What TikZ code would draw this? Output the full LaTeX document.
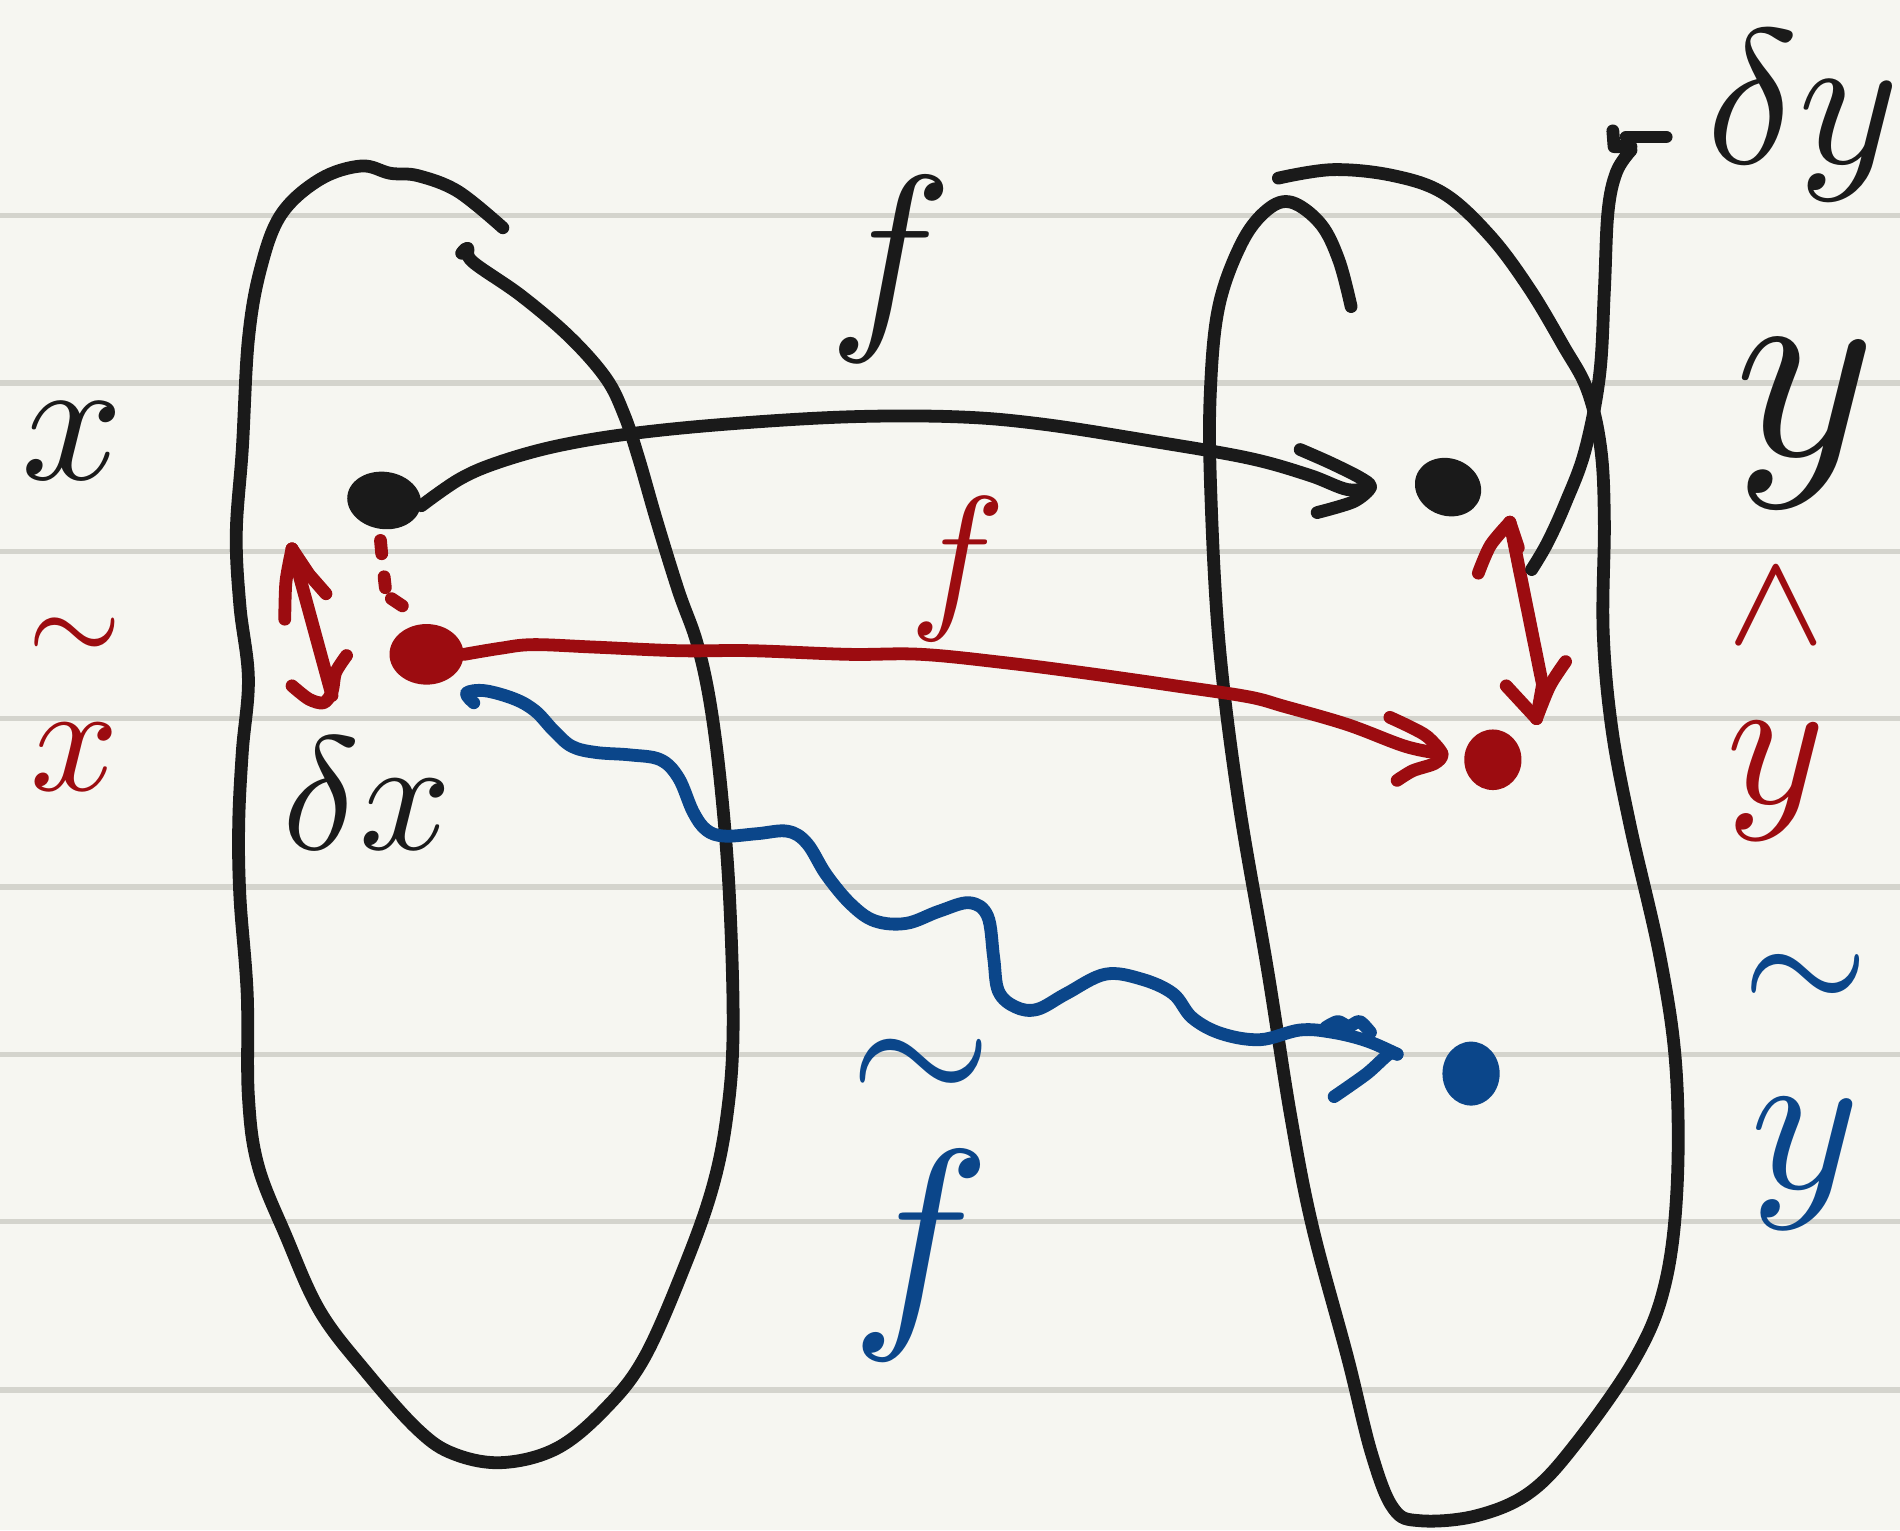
\documentclass[tikz,border=0pt]{standalone}
\usetikzlibrary{shapes.geometric}
\definecolor{bgC}{HTML}{F6F6F1}
\definecolor{ruleC}{HTML}{D4D4CD}
\definecolor{inkK}{HTML}{1A1A1A}
\definecolor{inkR}{HTML}{9C0C10}
\definecolor{inkB}{HTML}{0B468A}
\begin{document}
\begin{tikzpicture}[x=0.36pt,y=-0.36pt,
  pen/.style={line width=3.8pt,line cap=round,line join=round},
  kpen/.style={pen,draw=inkK}, rpen/.style={pen,draw=inkR}, bpen/.style={pen,draw=inkB},
  rulestyle/.style={draw=ruleC,line width=1.6pt},
  dotstyle/.style={ellipse,inner sep=0pt,draw=none},
  lbl/.style={inner sep=0pt,align=center}]
\fill[bgC] (0,0) rectangle (1568,1263);
\useasboundingbox (0,0) rectangle (1568,1263);
\foreach \yy in {178,316,455,593,732,870,1008,1147} \draw[rulestyle] (0,\yy) -- (1568,\yy);

% left set
\draw[kpen] plot[smooth,tension=0.6] coordinates {(381,209) (386,205) (390,216) (430,244) (470,278) (500,312) (515,342) (527,378) (542,430) (560,488) (575,530) (586,580) (595,650) (602,740) (605,850) (600,920) (588,980) (565,1045) (532,1120) (500,1162) (460,1195) (415,1207) (375,1200) (345,1180) (302,1132) (264,1082) (236,1020) (213,962) (205,905) (204,820) (198,740) (197,680) (200,620) (205,560) (198,500) (195,440) (200,370) (205,280) (215,222) (232,177) (264,148) (298,137) (322,143) (345,145) (378,158) (415,188)};
% right set
\draw[kpen] plot[smooth,tension=0.6] coordinates {(1055,147) (1100,140) (1150,145) (1192,160) (1230,195) (1262,238) (1290,285) (1310,322) (1321,370) (1324,430) (1323,520) (1330,600) (1345,680) (1370,790) (1383,880) (1384,980) (1374,1060) (1350,1120) (1300,1192) (1262,1232) (1218,1251) (1172,1255) (1150,1245) (1132,1200) (1112,1120) (1083,1012) (1065,920) (1046,800) (1022,660) (1006,530) (999,400) (999,320) (1006,252) (1025,200) (1046,173) (1066,167) (1090,185) (1105,215) (1115,253)};

% points
\node[dotstyle,fill=inkK,minimum width=22pt,minimum height=17pt,rotate=-8] (px) at (317,413) {};
\node[dotstyle,fill=inkR,minimum width=22pt,minimum height=18pt] (pxt) at (352,540) {};
\node[dotstyle,fill=inkK,minimum width=20pt,minimum height=17pt,rotate=-20] (py) at (1195,402) {};
\node[dotstyle,fill=inkR,minimum width=17pt,minimum height=18pt] (pyr) at (1232,627) {};
\node[dotstyle,fill=inkB,minimum width=17pt,minimum height=19pt] (pyb) at (1214,886) {};

% tips
\coordinate (tipK) at (1131,402);
\coordinate (tipR) at (1190,622);
\coordinate (tipB) at (1153,870);

% black arrow x -> y
\draw[kpen] plot[smooth,tension=0.6] coordinates {(px.east) (380,395) (413,381) (460,368) (520,358) (600,350) (700,344) (790,344) (860,350) (950,364) (1030,378) (1080,392) (1112,404) (tipK)};
\draw[kpen] plot[smooth,tension=0.5] coordinates {(1073,371) (1098,382) (1122,394) (tipK) (1117,414) (1087,423)};

% red arrow
\draw[rpen] plot[smooth,tension=0.6] coordinates {(pxt.east) (413,535) (440,532) (490,534) (560,537) (620,537) (700,540) (760,540) (830,547) (900,556) (970,566) (1030,575) (1060,583) (1112,598) (1160,616) (tipR)};
\draw[rpen] plot[smooth,tension=0.5] coordinates {(1147,592) (1164,600) (1178,608) (tipR) (1184,630) (1166,636) (1153,644)};

% blue wavy arrow
\draw[bpen] plot[smooth,tension=0.6] coordinates {(391,580) (385,572) (400,570) (425,577) (442,587) (457,603) (472,616) (492,621) (520,623) (545,627) (560,642) (572,670) (583,685) (598,690) (625,688) (650,686) (666,696) (682,722) (702,746) (722,760) (748,762) (775,752) (800,745) (815,756) (820,790) (824,818) (838,831) (856,833) (880,820) (912,804) (942,808) (968,820) (984,840) (1008,853) (1040,858) (1073,850) (1100,852) (1128,859) (tipB)};
\draw[bpen] plot[smooth,tension=0.5] coordinates {(1094,848) (1104,843) (1113,847) (1122,843) (1131,852)};
\draw[bpen] plot[smooth,tension=0.5] coordinates {(tipB) (1146,870) (1128,886) (1101,905)};

% red dotted link between x and x tilde
\draw[rpen] (314,446) -- (315,457);
\draw[rpen] (317,476) -- (318,485);
\draw[rpen] (323,494) -- (332,500);

% left delta x double arrow
\coordinate (dxa) at (241,453);
\coordinate (dxb) at (274,574);
\draw[rpen] (dxa) -- (dxb);
\draw[rpen] plot[smooth,tension=0.5] coordinates {(235,511) (236,480) (dxa)};
\draw[rpen] (dxa) -- (255,474) -- (269,490);
\draw[rpen] plot[smooth,tension=0.5] coordinates {(241,566) (255,577) (267,580) (274,571) (277,555) (286,541)};

% right delta y double arrow
\coordinate (dya) at (1246,431);
\coordinate (dyb) at (1268,593);
\draw[rpen] (dya) -- (1273,565) -- (dyb);
\draw[rpen] plot[smooth,tension=0.5] coordinates {(1220,473) (1230,450) (dya)};
\draw[rpen] (dya) -- (1253,452);
\draw[rpen] (1243,566) -- (dyb);
\draw[rpen] plot[smooth,tension=0.5] coordinates {(1292,546) (1279,566) (dyb)};

% pointer from delta y
\draw[kpen] (1375,113) -- (1342,113);
\draw[kpen] (1331,108) -- (1332,121) -- (1346,121);
\draw[kpen] plot[smooth,tension=0.6] coordinates {(1346,124) (1334,142) (1327,175) (1324,240) (1320,310) (1308,372) (1292,415) (1277,448) (1264,470)};

% labels
\node[lbl,text=inkK,scale=5.3] (lx) at (60,364) {$x$};
\node[lbl,text=inkR,scale=4.6] (lxt) at (62,581) {$\scriptstyle\sim$\\[-3.5pt]$x$};
\node[lbl,text=inkK,scale=4.8] (ldx) at (303,655) {$\delta x$};
\node[lbl,text=inkK,scale=6.2] (lf) at (735,222) {$f$};
\node[lbl,text=inkR,scale=4.8] (lfr) at (790,470) {$f$};
\node[lbl,text=inkB,scale=7] (lfb) at (760,990) {$\scriptstyle\sim$\\[-3pt]$f$};
\node[lbl,text=inkK,scale=5.7] (ldy) at (1488,95) {$\delta y$};
\node[lbl,text=inkK,scale=8] (ly) at (1490,350) {$y$};
\node[lbl,text=inkR,scale=5.6] (lyh) at (1466,582) {$\scriptstyle\wedge$\\[-3.5pt]$y$};
\node[lbl,text=inkB,scale=6.2] (lyt) at (1490,901) {$\scriptstyle\sim$\\[-3.5pt]$y$};
\end{tikzpicture}
\end{document}
